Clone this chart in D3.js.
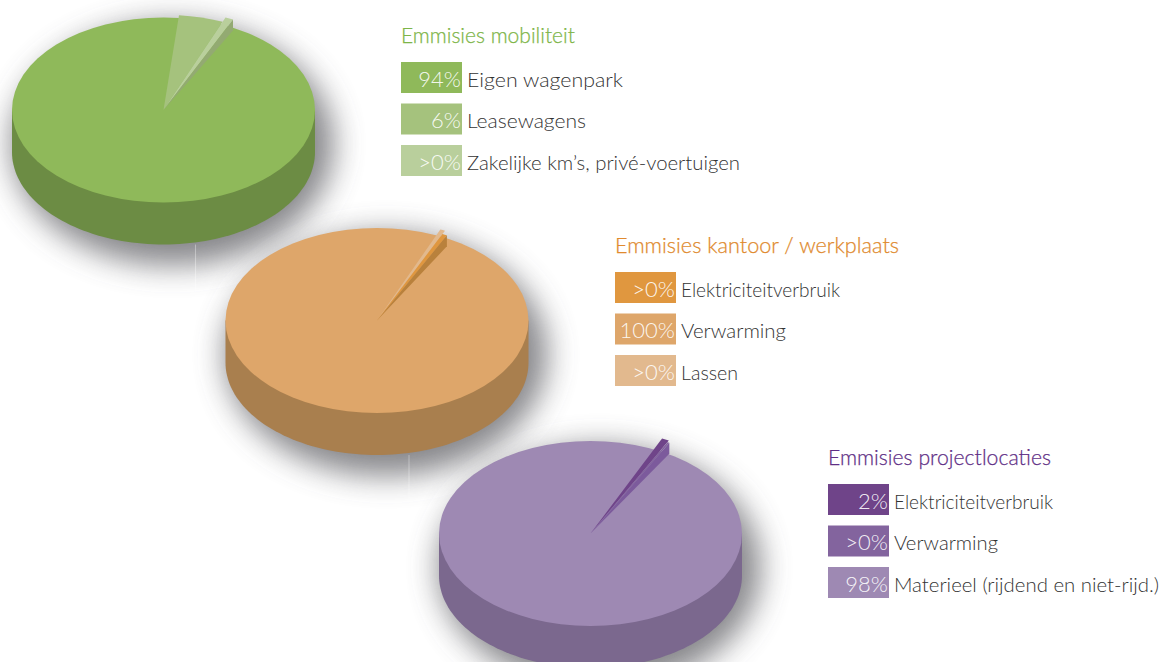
<!DOCTYPE html>
<html>
<head>
<meta charset="utf-8">
<script src="https://cdn.jsdelivr.net/npm/d3@7"></script>
<style>
  html, body { margin: 0; padding: 0; background: #fff; overflow: hidden; }
  text { font-family: Lato, "Open Sans", sans-serif; }
</style>
</head>
<body>
<div id="chart-container"></div>
<script>
const width = 1164;
const height = 662;

// group titles
const titles = ["Emmisies mobiliteit", "Emmisies kantoor / werkplaats", "Emmisies projectlocaties"];

// legend text, same order as the legend in the picture
const mobiliteitLabels = ["Eigen wagenpark", "Leasewagens", "Zakelijke km’s, privé-voertuigen"];
const kantoorLabels = ["Elektriciteitverbruik", "Verwarming", "Lassen"];
const projectLabels = ["Elektriciteitverbruik", "Verwarming", "Materieel (rijdend en niet-rijd.)"];

const mobiliteitPct = ["94%", "6%", ">0%"];
const kantoorPct = [">0%", "100%", ">0%"];
const projectPct = ["2%", ">0%", "98%"];

// slice sizes as drawn in the picture
const mobiliteitValues = [94.6, 4.6, 0.8];
const kantoorValues = [0.5, 99, 0.5];
const projectValues = [0.7, 0.2, 99.1];

const mobiliteitColors = ["#8fb95a", "#a5c27d", "#b9cf9c"];
const kantoorColors = ["#e0973f", "#dea66a", "#e2b98e"];
const projectColors = ["#6f4489", "#83649e", "#9e89b3"];

const titleColors = ["#7db548", "#e08a2e", "#5f2f86"];
const wallColors = ["#6c8c44", "#a97f4e", "#7b688e"];
const tipWallColors = ["#93aa72", "#b9813c", "#7c5a9c"];

// clockwise order of the slices from the start angle, index into the arrays above
const sliceOrders = [[1, 2, 0], [2, 0, 1], [0, 1, 2]];
const startDegrees = [5.7, 23, 24.7];
const mainSlice = [0, 1, 2];
// how far the small slices stick out past the rim
const pullScale = [[1, 1.03, 1.08], [1.03, 1, 1.07], [1.13, 1.11, 1]];

const pieCenters = [[163.5, 110], [377, 320.5], [590.5, 533.5]];
const legendPos = [[401, 62], [615, 272], [828, 484]];

// label widths in the reference, the fallback font runs wider
const mobiliteitWidths = [156, 119, 273];
const kantoorWidths = [159, 105, 57];
const projectWidths = [159, 104, 265];
const titleWidths = [174, 284, 223];

const rx = 151.5, ry = 92.5, depth = 42, tipDrop = 11;

const groups = [
  {labels: mobiliteitLabels, pct: mobiliteitPct, values: mobiliteitValues, colors: mobiliteitColors, widths: mobiliteitWidths},
  {labels: kantoorLabels, pct: kantoorPct, values: kantoorValues, colors: kantoorColors, widths: kantoorWidths},
  {labels: projectLabels, pct: projectPct, values: projectValues, colors: projectColors, widths: projectWidths}
];

const svg = d3.select("#chart-container")
  .append("svg")
  .attr("width", width)
  .attr("height", height)
  .style("display", "block");

const blur = svg.append("defs").append("filter")
  .attr("id", "shadow-blur")
  .attr("x", "-30%").attr("y", "-30%")
  .attr("width", "160%").attr("height", "170%");
blur.append("feGaussianBlur").attr("stdDeviation", 15);

const arc = d3.arc().innerRadius(0);

// outline of the pie side, left to right along the lower half
const wallLine = d3.line();
const wallPoints = d3.range(0, 181, 2).map(a => {
  const t = a * Math.PI / 180;
  return [-rx * Math.cos(t), depth + ry * Math.sin(t)];
});
const wallPath = `M${-rx},0 ` + wallLine(wallPoints).replace("M", "L") + ` L${rx},0 Z`;

// shadows first so that no pie gets covered by the next one's shadow
groups.forEach((g, i) => {
  const [cx, cy] = pieCenters[i];
  svg.append("ellipse")
    .attr("cx", cx + 9)
    .attr("cy", cy + depth / 2 + 13)
    .attr("rx", rx + 10)
    .attr("ry", ry + depth / 2 + 8)
    .attr("fill", "#505055")
    .attr("opacity", 0.68)
    .attr("filter", "url(#shadow-blur)");
  // faint seam through the shadow
  svg.append("line")
    .attr("x1", cx + 32).attr("x2", cx + 32)
    .attr("y1", cy + ry + depth)
    .attr("y2", cy + ry + depth + 48)
    .attr("stroke", "#fff")
    .attr("stroke-opacity", 0.35);
});

groups.forEach((g, i) => {
  const [cx, cy] = pieCenters[i];
  const pieG = svg.append("g").attr("transform", `translate(${cx},${cy})`);

  pieG.append("path").attr("d", wallPath).attr("fill", wallColors[i]);

  const order = sliceOrders[i];
  const start = startDegrees[i] * Math.PI / 180;
  const slices = d3.pie()
    .sort(null)
    .startAngle(start)
    .endAngle(start + 2 * Math.PI)
    .value(k => g.values[k])(order);

  const small = slices.filter(s => s.data !== mainSlice[i]);
  const top = pieG.append("g").attr("transform", `scale(1,${ry / rx})`);

  // main slice fills the disc, the small ones sit on it and reach past the rim
  top.append("ellipse").attr("rx", rx).attr("ry", rx)
    .attr("fill", g.colors[mainSlice[i]]);

  // side of the small slices, from the point out to the clockwise tip
  const last = small[small.length - 1];
  const lastR = rx * pullScale[i][last.data];
  const tipX = lastR * Math.sin(last.endAngle);
  const tipY = -lastR * Math.cos(last.endAngle) * ry / rx;
  pieG.append("path")
    .attr("d", `M0,0 L${tipX},${tipY} L${tipX},${tipY + tipDrop} Z`)
    .attr("fill", tipWallColors[i]);

  small.forEach(s => {
    top.append("path")
      .attr("d", arc.outerRadius(rx * pullScale[i][s.data])(s))
      .attr("fill", g.colors[s.data]);
  });

  // legend
  const [lx, ly] = legendPos[i];
  const legend = svg.append("g").attr("transform", `translate(${lx},${ly})`);
  const rowY = d3.scaleBand().domain(d3.range(3)).range([0, 114]).paddingInner(0.253).paddingOuter(0);

  legend.append("text")
    .attr("x", 0)
    .attr("y", -19)
    .attr("fill", titleColors[i])
    .attr("stroke", titleColors[i])
    .attr("stroke-width", 0.25)
    .attr("textLength", titleWidths[i])
    .attr("lengthAdjust", "spacingAndGlyphs")
    .style("font-size", "21px")
    .style("font-weight", 300)
    .text(titles[i]);

  const rows = legend.selectAll(".row")
    .data(d3.range(3))
    .enter()
    .append("g")
    .attr("class", "row")
    .attr("transform", k => `translate(0,${rowY(k)})`);

  rows.append("rect")
    .attr("width", 61)
    .attr("height", rowY.bandwidth())
    .attr("fill", k => g.colors[k]);

  rows.append("text")
    .attr("x", 60)
    .attr("y", rowY.bandwidth() / 2 + 9.5)
    .attr("text-anchor", "end")
    .attr("fill", "#fff")
    .attr("fill-opacity", 0.9)
    .style("font-size", "22px")
    .style("font-weight", 300)
    .text(k => g.pct[k]);

  rows.append("text")
    .attr("x", 66)
    .attr("y", rowY.bandwidth() / 2 + 9.5)
    .attr("fill", "#333")
    .attr("textLength", k => g.widths[k])
    .attr("lengthAdjust", "spacingAndGlyphs")
    .style("font-size", "20px")
    .style("font-weight", 300)
    .text(k => g.labels[k]);
});
</script>
</body>
</html>
